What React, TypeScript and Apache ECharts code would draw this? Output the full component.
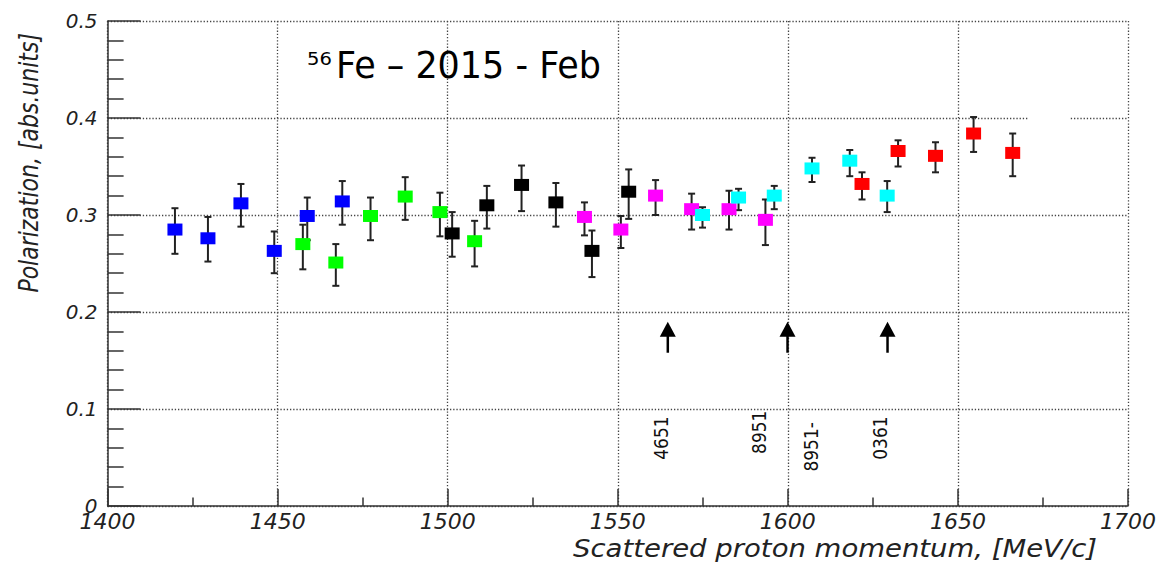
import React, { useEffect, useRef } from "react";
import * as echarts from "echarts";

// [momentum, polarization, lower error edge, upper error edge]
const blueData = [
  [1419.8, 0.285, 0.260, 0.307],
  [1429.5, 0.276, 0.252, 0.298],
  [1439.2, 0.312, 0.288, 0.332],
  [1449.0, 0.263, 0.240, 0.283],
  [1458.7, 0.299, 0.274, 0.318],
  [1469.0, 0.314, 0.290, 0.335],
];
const greenData = [
  [1457.4, 0.270, 0.244, 0.290],
  [1467.1, 0.251, 0.227, 0.270],
  [1477.3, 0.299, 0.274, 0.318],
  [1487.5, 0.319, 0.295, 0.339],
  [1497.7, 0.303, 0.278, 0.323],
  [1507.9, 0.273, 0.247, 0.294],
];
const blackData = [
  [1501.3, 0.281, 0.257, 0.303],
  [1511.5, 0.310, 0.286, 0.330],
  [1521.7, 0.331, 0.304, 0.351],
  [1531.8, 0.313, 0.288, 0.333],
  [1542.4, 0.263, 0.236, 0.284],
  [1553.2, 0.324, 0.296, 0.347],
];
const magentaData = [
  [1540.2, 0.298, 0.279, 0.313],
  [1550.9, 0.285, 0.266, 0.299],
  [1561.1, 0.320, 0.300, 0.336],
  [1571.7, 0.306, 0.285, 0.322],
  [1582.7, 0.306, 0.285, 0.325],
  [1593.4, 0.295, 0.269, 0.316],
];
const cyanData = [
  [1574.9, 0.300, 0.287, 0.308],
  [1585.5, 0.318, 0.305, 0.327],
  [1596.0, 0.320, 0.306, 0.330],
  [1607.1, 0.348, 0.334, 0.359],
  [1618.2, 0.356, 0.340, 0.367],
  [1629.2, 0.320, 0.303, 0.335],
];
const redData = [
  [1621.8, 0.332, 0.316, 0.344],
  [1632.4, 0.366, 0.350, 0.377],
  [1643.4, 0.361, 0.344, 0.375],
  [1654.6, 0.384, 0.365, 0.401],
  [1666.1, 0.364, 0.340, 0.384],
];

const seriesColors = ["#0000ff", "#00ff00", "#000000", "#ff00ff", "#00ffff", "#ff0000"];
const seriesNames = ["blue", "green", "black", "magenta", "cyan", "red"];

const arrowX = [1564.7, 1599.9, 1629.3];
const arrowBase = [0.158, 0.158, 0.158];
const arrowTip = [0.19, 0.19, 0.19];

const runLabels = ["4651", "8951", "8951-", "0361"];
const runLabelX = [1562.9, 1591.7, 1607.0, 1627.0];
const runLabelY = [0.070, 0.076, 0.061, 0.070];

const titleSup = "56";
const titleMain = "Fe – 2015 - Feb";
const xName = "Scattered proton momentum, [MeV/c]";
const yName = "Polarization, [abs.units]";

const AXIS_COLOR = "#333";
const GRID_STYLE = { type: [1.3, 1.9], color: "#444", width: 1.3 };

export default function App() {
  const ref = useRef<HTMLDivElement>(null);

  useEffect(() => {
    if (!ref.current) return;
    const chart = echarts.init(ref.current, undefined, { renderer: "svg" });

    const groups = [blueData, greenData, blackData, magentaData, cyanData, redData];

    const errRender = (params: any, api: any) => {
      const x = api.value(0);
      const lo = api.value(2);
      const hi = api.value(3);
      const top = api.coord([x, hi]);
      const bot = api.coord([x, lo]);
      const w = 3.5;
      const st = { stroke: "#222", lineWidth: 2 };
      return {
        type: "group",
        children: [
          { type: "line", shape: { x1: top[0], y1: top[1], x2: bot[0], y2: bot[1] }, style: st },
          { type: "line", shape: { x1: top[0] - w, y1: top[1], x2: top[0] + w, y2: top[1] }, style: st },
          { type: "line", shape: { x1: bot[0] - w, y1: bot[1], x2: bot[0] + w, y2: bot[1] }, style: st },
        ],
      };
    };

    const errSeries = groups.map((g, i) => ({
      name: seriesNames[i] + "-err",
      type: "custom",
      renderItem: errRender,
      data: g,
      encode: { x: 0, y: 1 },
      z: 2,
      silent: true,
    }));

    const pointSeries = groups.map((g, i) => ({
      name: seriesNames[i],
      type: "scatter",
      data: g.map((d) => [d[0], d[1]]),
      symbol: "rect",
      symbolSize: [15, 12],
      itemStyle: { color: seriesColors[i], opacity: 1 },
      z: 3,
      silent: true,
    }));

    const arrowSeries = {
      name: "arrows",
      type: "custom",
      data: arrowX.map((x, i) => [x, arrowBase[i], arrowTip[i]]),
      encode: { x: 0, y: 1 },
      z: 4,
      silent: true,
      renderItem: (params: any, api: any) => {
        const x = api.value(0);
        const b = api.coord([x, api.value(1)]);
        const t = api.coord([x, api.value(2)]);
        const hh = 15;
        const hw = 8;
        return {
          type: "group",
          children: [
            {
              type: "line",
              shape: { x1: b[0], y1: b[1], x2: t[0], y2: t[1] + hh - 1 },
              style: { stroke: "#000", lineWidth: 2.5 },
            },
            {
              type: "polygon",
              shape: { points: [[t[0], t[1]], [t[0] - hw, t[1] + hh], [t[0] + hw, t[1] + hh]] },
              style: { fill: "#000" },
            },
          ],
        };
      },
    };

    const labelSeries = {
      name: "runs",
      type: "custom",
      data: runLabelX.map((x, i) => [x, runLabelY[i], i]),
      encode: { x: 0, y: 1 },
      z: 4,
      silent: true,
      renderItem: (params: any, api: any) => {
        const p = api.coord([api.value(0), api.value(1)]);
        const idx = api.value(2);
        return {
          type: "text",
          x: p[0],
          y: p[1],
          rotation: Math.PI / 2,
          scaleY: 1.1,
          style: {
            text: runLabels[idx],
            fontSize: 17,
            fontFamily: "DejaVu Sans",
            fill: "#111",
            align: "center",
            verticalAlign: "middle",
          },
        };
      },
    };

    chart.setOption({
      animation: false,
      backgroundColor: "#ffffff",
      grid: { left: 107.6, right: 33, top: 21, bottom: 57, outerBoundsMode: "none" },
      xAxis: {
        type: "value",
        min: 1400,
        max: 1700,
        interval: 50,
        axisLine: { show: true, onZero: false, lineStyle: { color: AXIS_COLOR, width: 1.5 } },
        axisTick: { show: true, inside: true, length: 17, lineStyle: { color: AXIS_COLOR, width: 1.5 } },
        minorTick: { show: true, splitNumber: 2, length: 8.5, lineStyle: { color: AXIS_COLOR, width: 1.5 } },
        axisLabel: {
          show: true,
          margin: 4,
          fontSize: 22,
          fontFamily: "DejaVu Sans",
          fontStyle: "italic",
          color: "#222",
          showMinLabel: true,
          showMaxLabel: true,
          formatter: (v: number) => String(v),
        },
        splitLine: { show: true, lineStyle: GRID_STYLE },
      },
      yAxis: {
        type: "value",
        min: 0,
        max: 0.5,
        interval: 0.1,
        axisLine: { show: true, lineStyle: { color: AXIS_COLOR, width: 1.5 } },
        axisTick: { show: true, inside: true, length: 33, lineStyle: { color: AXIS_COLOR, width: 1.5 } },
        minorTick: { show: true, splitNumber: 5, length: 16, lineStyle: { color: AXIS_COLOR, width: 1.5 } },
        axisLabel: {
          show: true,
          margin: 10,
          fontSize: 20,
          fontFamily: "DejaVu Sans",
          fontStyle: "italic",
          color: "#222",
          showMinLabel: true,
          showMaxLabel: true,
          formatter: (v: number) => (v === 0 ? "0" : v.toFixed(1)),
        },
        splitLine: { show: true, lineStyle: GRID_STYLE },
      },
      graphic: [
        {
          type: "rect",
          z: 10,
          shape: { x: 1028, y: 113, width: 41, height: 9 },
          style: { fill: "#ffffff" },
          silent: true,
        },
        {
          type: "text",
          z: 10,
          x: 307,
          y: 59,
          scaleX: 1.15,
          style: {
            text: titleSup,
            fontSize: 17,
            fontFamily: "DejaVu Sans",
            fill: "#000",
            align: "left",
            verticalAlign: "middle",
          },
        },
        {
          type: "text",
          z: 10,
          x: 336,
          y: 65,
          scaleX: 0.92,
          style: {
            text: titleMain,
            fontSize: 38,
            fontFamily: "DejaVu Sans",
            fill: "#000",
            align: "left",
            verticalAlign: "middle",
          },
        },
        {
          type: "text",
          z: 10,
          x: 1097,
          y: 548,
          scaleX: 1.1,
          style: {
            text: xName,
            fontSize: 25,
            fontFamily: "DejaVu Sans",
            fontStyle: "italic",
            fill: "#222",
            align: "right",
            verticalAlign: "middle",
          },
        },
        {
          type: "text",
          z: 10,
          x: 29,
          y: 33,
          rotation: Math.PI / 2,
          scaleY: 1.2,
          style: {
            text: yName,
            fontSize: 22,
            fontFamily: "DejaVu Sans",
            fontStyle: "italic",
            fill: "#222",
            align: "right",
            verticalAlign: "middle",
          },
        },
      ],
      series: [...errSeries, ...pointSeries, arrowSeries, labelSeries],
    });

    return () => chart.dispose();
  }, []);

  return (
    <div
      ref={ref}
      style={{ position: "absolute", left: 0, top: 0, width: 1161, height: 563 }}
    />
  );
}
